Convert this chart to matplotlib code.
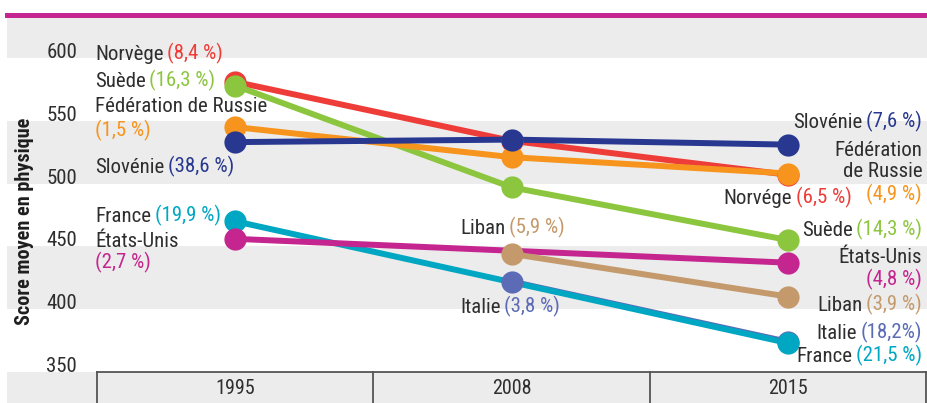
import numpy as np
import matplotlib
matplotlib.use('Agg')
import matplotlib.pyplot as plt
from matplotlib.lines import Line2D
from matplotlib import font_manager as fm

# --- data (mean physics score) ---
years = ['1995', '2008', '2015']
norway = [581, 534, 507]
sweden = [578, 497, 455]
russia = [545, 521, 508]
slovenia = [533, 535, 531]
france = [470, np.nan, 373]
usa = [456, np.nan, 437]
lebanon = [np.nan, 444, 410]
italy = [np.nan, 422, 374]
yticks = [350, 400, 450, 500, 550, 600]

# pick a condensed face if one is installed
have = {f.name for f in fm.fontManager.ttflist}
narrow = [n for n in ['Roboto Condensed', 'Archivo Narrow', 'PT Sans Narrow',
                      'Liberation Sans Narrow', 'Sofia Sans Condensed', 'Barlow Condensed',
                      'Encode Sans Condensed', 'IBM Plex Sans Condensed'] if n in have]
FONT = narrow[:1] + ['DejaVu Sans']

DARK = '#2e2e2e'
GREY = '#ececec'

C_NOR = '#ee3d38'
C_SWE = '#8cc63f'
C_RUS = '#f7941d'
C_SLO = '#283891'
C_FRA = '#00a7c2'
C_USA = '#c4258f'
C_LIB = '#c49a6c'
C_ITA = '#5b6bb5'

W, H = 928, 403
fig = plt.figure(figsize=(W / 100, H / 100), dpi=100)
# axes covers x 7..928 px, y 17..403 px
ax = fig.add_axes([7 / W, 0, 921 / W, (403 - 17) / H])
ax.set_xlim(-0.825, 2.506)
ax.set_ylim(325.3, 632.6)
ax.axis('off')

# background bands
for lo, hi in [(600, 640), (500, 550), (400, 450), (300, 350)]:
    ax.axhspan(lo, hi, color=GREY, lw=0, zorder=0)

# category boxes at the bottom
ax.plot([-0.5, 2.5], [350, 350], color='#555555', lw=1.3, zorder=1, clip_on=False)
for xb in [-0.5, 0.5, 1.5, 2.5]:
    ax.plot([xb, xb], [350, 325.3], color='#555555', lw=1.3, zorder=1, clip_on=False)
for i, yr in enumerate(years):
    ax.text(i, 336.5, yr, ha='center', va='center', fontsize=14.5, color=DARK, family=FONT)

# y tick labels
for t in yticks:
    ax.text(-0.571, t, str(t), ha='right', va='baseline', fontsize=15, color=DARK, family=FONT)

fig.text(25 / W, 1 - 221.5 / H, 'Score moyen en physique', rotation=90, ha='center',
         va='center', fontsize=14.6, fontweight='heavy', color='#1e1e1e', family=FONT)

# magenta rule on top
fig.add_artist(Line2D([7 / W, 1], [1 - 14.8 / H] * 2, color='#c4258f', lw=3.6))

series = [
    (italy, C_ITA), (france, C_FRA), (usa, C_USA), (lebanon, C_LIB),
    (norway, C_NOR), (sweden, C_SWE), (russia, C_RUS), (slovenia, C_SLO),
]
x = np.arange(len(years))
for vals, col in series:
    v = np.array(vals, dtype=float)
    ok = ~np.isnan(v)
    ax.plot(x[ok], v[ok], color=col, lw=4.3, solid_capstyle='round', zorder=2)
for vals, col in series:
    v = np.array(vals, dtype=float)
    ok = ~np.isnan(v)
    ax.plot(x[ok], v[ok], ls='none', marker='o', ms=16, color=col, mec='none', zorder=3)

FS = 15


def label(xp, yp, name, pct, col, ha='left'):
    if ha == 'left':
        t = ax.text(xp, yp, name, ha='left', va='baseline', fontsize=FS, color=DARK, family=FONT)
        if pct:
            ax.annotate(pct, xy=(1, 0), xycoords=t, xytext=(2.5, 0), textcoords='offset points',
                        ha='left', va='bottom', fontsize=FS, color=col, family=FONT)
    else:
        if pct:
            t = ax.text(xp, yp, pct, ha='right', va='baseline', fontsize=FS, color=col, family=FONT)
            if name:
                ax.annotate(name, xy=(0, 0), xycoords=t, xytext=(-2.5, 0), textcoords='offset points',
                            ha='right', va='bottom', fontsize=FS, color=DARK, family=FONT)
        else:
            ax.text(xp, yp, name, ha='right', va='baseline', fontsize=FS, color=DARK, family=FONT)


# 1995 labels
XL = -0.506
label(XL, 598.4, 'Norvège', '(8,4 %)', C_NOR)
label(XL, 577.1, 'Suède', '(16,3 %)', C_SWE)
label(XL, 557.2, 'Fédération de Russie', None, C_RUS)
ax.text(XL, 537.3, '(1,5 %)', ha='left', va='baseline', fontsize=FS, color=C_RUS, family=FONT)
label(XL, 508.2, 'Slovénie', '(38,6 %)', C_SLO)
label(XL, 469.7, 'France', '(19,9 %)', C_FRA)
label(XL, 449.8, 'États-Unis', None, C_USA)
ax.text(XL, 432.6, '(2,7 %)', ha='left', va='baseline', fontsize=FS, color=C_USA, family=FONT)

# 2008 labels
label(0.814, 459.9, 'Liban', '(5,9 %)', C_LIB)
label(0.814, 397.2, 'Italie', '(3,8 %)', C_ITA)

# 2015 labels
XR = 2.485
label(XR, 544.8, 'Slovénie', '(7,6 %)', C_SLO, ha='right')
label(XR, 522.2, 'Fédération', None, C_RUS, ha='right')
label(XR, 505.0, 'de Russie', None, C_RUS, ha='right')
label(XR, 486.9, None, '(4,9 %)', C_RUS, ha='right')
label(2.230, 484.3, 'Norvége', '(6,5 %)', C_NOR, ha='right')
label(XR, 459.1, 'Suède', '(14,3 %)', C_SWE, ha='right')
label(XR, 436.5, 'États-Unis', None, C_USA, ha='right')
label(XR, 419.3, None, '(4,8 %)', C_USA, ha='right')
label(XR, 399.4, 'Liban', '(3,9 %)', C_LIB, ha='right')
label(XR, 376.8, 'Italie', '(18,2%)', C_ITA, ha='right')
label(XR, 358.2, 'France', '(21,5 %)', C_FRA, ha='right')

fig.savefig('out.png', dpi=100)
